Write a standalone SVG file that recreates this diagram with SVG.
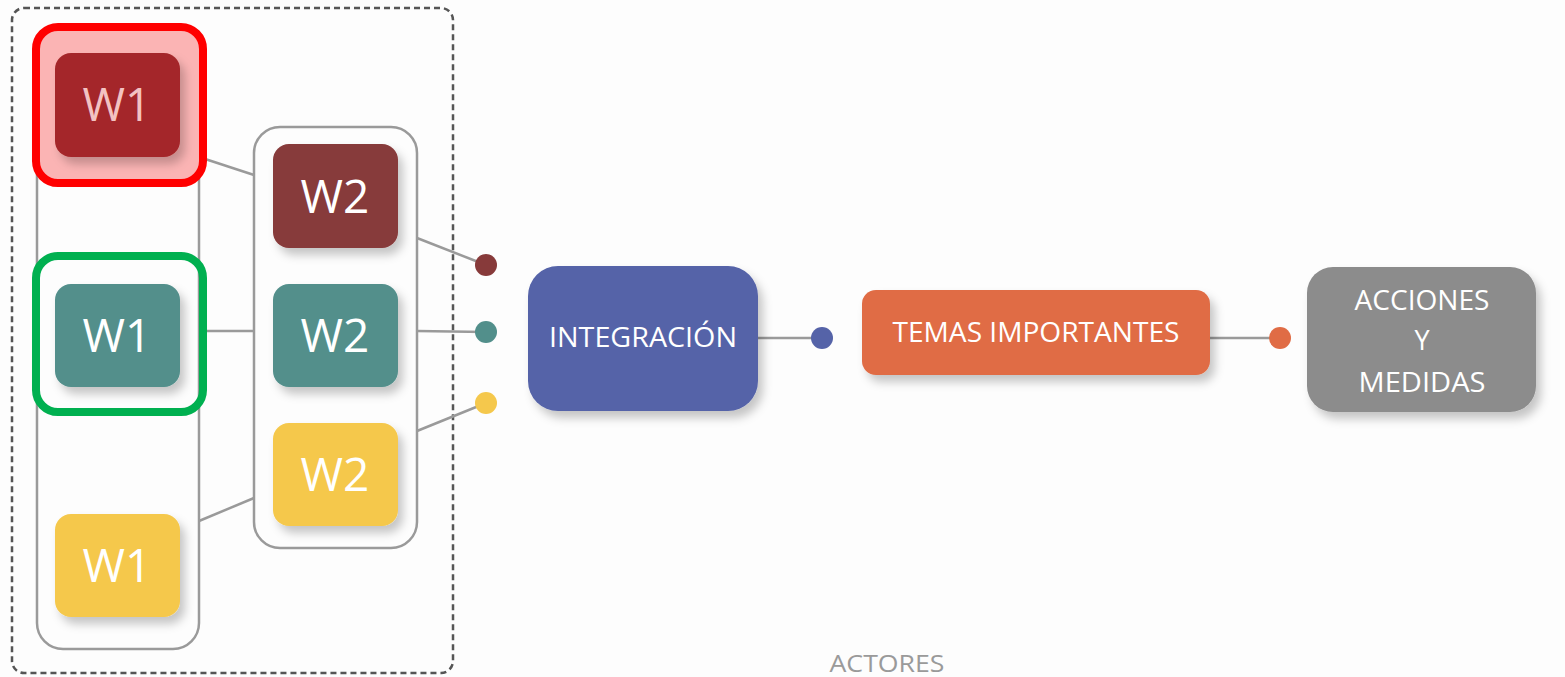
<svg xmlns="http://www.w3.org/2000/svg" width="1565" height="677" viewBox="0 0 1565 677">
<defs>
<filter id="sh" x="-20%" y="-20%" width="150%" height="160%">
<feDropShadow dx="5" dy="7" stdDeviation="5" flood-color="#000" flood-opacity="0.22"/>
</filter>
</defs>
<style>
.cont{fill:none;stroke:#9a9a9a;stroke-width:2.5}
.ln{stroke:#9a9a9a;stroke-width:2.5;fill:none}
.w{font-family:"Open Sans","Noto Sans",sans-serif;font-size:46px;fill:#fff;text-anchor:middle}
.t{font-family:"Open Sans","Noto Sans",sans-serif;font-size:27px;fill:#fff;text-anchor:middle}
.red{fill:#A4282A}.red2{fill:#873A3A}.teal{fill:#528F8B}.yel{fill:#F5C84C}
</style>
<rect width="1565" height="677" fill="#fdfdfd"/>
<rect x="12" y="8" width="441" height="665" rx="12" fill="none" stroke="#555" stroke-width="2.5" stroke-dasharray="6,4"/>
<g id="containers">
<rect class="cont" x="37" y="35" width="162" height="614" rx="26"/>
<rect class="cont" x="254" y="127" width="163" height="421" rx="26"/>
</g>
<g id="connectors">
<line class="ln" x1="199" y1="157" x2="254" y2="175"/>
<line class="ln" x1="199" y1="331" x2="254" y2="331"/>
<line class="ln" x1="199" y1="521" x2="254" y2="498"/>
<line class="ln" x1="417" y1="238" x2="486" y2="265"/>
<line class="ln" x1="417" y1="331" x2="486" y2="332"/>
<line class="ln" x1="417" y1="431" x2="486" y2="403"/>
<line class="ln" x1="758" y1="338" x2="822" y2="338"/>
<line class="ln" x1="1210" y1="338" x2="1280" y2="338"/>
<circle cx="486" cy="265" r="11" fill="#873A3A"/>
<circle cx="486" cy="332" r="11" fill="#528F8B"/>
<circle cx="486" cy="403" r="11" fill="#F5C84C"/>
<circle cx="822" cy="338" r="11" fill="#5563A8"/>
<circle cx="1280" cy="338" r="11" fill="#E06C45"/>
</g>
<g id="highlight-red">
<rect x="36" y="27" width="167" height="156" rx="22" fill="#FBB4B4"/>
</g>
<g id="w1-red">
<rect class="red" x="55" y="53" width="125" height="104" rx="16" filter="url(#sh)"/>
<text class="w" x="117" y="121" style="fill:#F3C2C2">W1</text>
</g>
<g id="w1-teal">
<rect class="teal" x="55" y="284" width="125" height="103" rx="16" filter="url(#sh)"/>
<text class="w" x="117" y="352">W1</text>
</g>
<g id="w1-yellow">
<rect class="yel" x="55" y="514" width="125" height="103" rx="16" filter="url(#sh)"/>
<text class="w" x="117" y="582">W1</text>
</g>
<g id="w2-red">
<rect class="red2" x="273" y="144" width="125" height="104" rx="16" filter="url(#sh)"/>
<text class="w" x="335" y="213">W2</text>
</g>
<g id="w2-teal">
<rect class="teal" x="273" y="284" width="125" height="103" rx="16" filter="url(#sh)"/>
<text class="w" x="335" y="352">W2</text>
</g>
<g id="w2-yellow">
<rect class="yel" x="273" y="423" width="125" height="103" rx="16" filter="url(#sh)"/>
<text class="w" x="335" y="491">W2</text>
</g>
<g id="red-outline">
<rect x="36" y="27" width="167" height="156" rx="22" fill="none" stroke="#FF0000" stroke-width="8"/>
</g>
<g id="green-outline">
<rect x="36" y="256" width="167" height="156" rx="22" fill="none" stroke="#00B050" stroke-width="8"/>
</g>
<g id="integracion">
<rect x="528" y="266" width="230" height="145" rx="30" fill="#5563A8" filter="url(#sh)"/>
<text class="t" x="643" y="347" textLength="188" lengthAdjust="spacingAndGlyphs">INTEGRACIÓN</text>
</g>
<g id="temas">
<rect x="862" y="290" width="348" height="85" rx="14" fill="#E06C45" filter="url(#sh)"/>
<text class="t" x="1036" y="342" textLength="287" lengthAdjust="spacingAndGlyphs">TEMAS IMPORTANTES</text>
</g>
<g id="acciones">
<rect x="1307" y="267" width="229" height="145" rx="26" fill="#8C8C8C" filter="url(#sh)"/>
<text class="t" x="1422" y="310" textLength="135" lengthAdjust="spacingAndGlyphs">ACCIONES</text>
<text class="t" x="1422" y="350">Y</text>
<text class="t" x="1422" y="392" textLength="127" lengthAdjust="spacingAndGlyphs">MEDIDAS</text>
</g>
<text x="887" y="672" font-family="Open Sans, Noto Sans, sans-serif" font-size="24" fill="#9a9a9a" text-anchor="middle" textLength="115" lengthAdjust="spacingAndGlyphs">ACTORES</text>
</svg>
